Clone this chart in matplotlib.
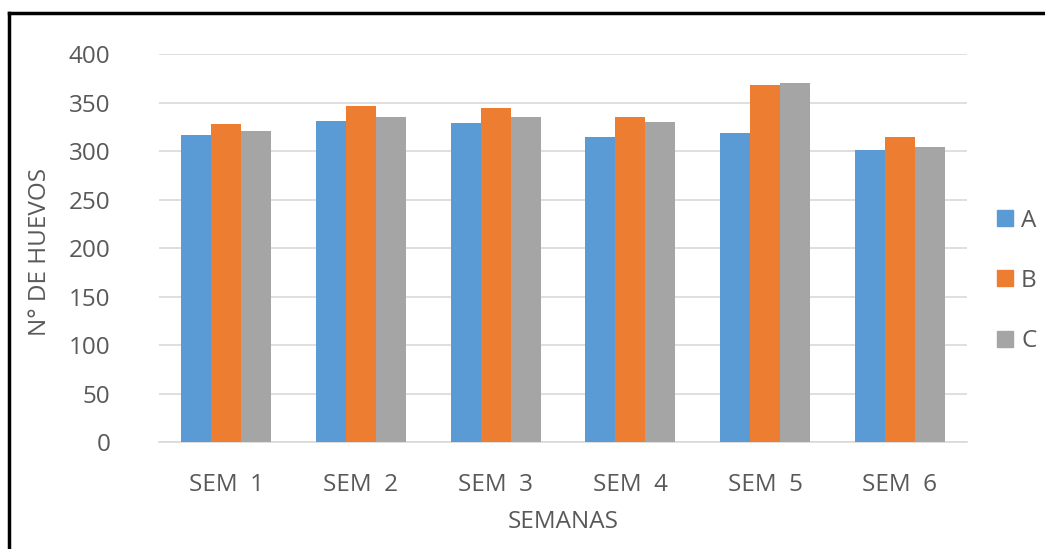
import numpy as np
import matplotlib.pyplot as plt
from matplotlib.lines import Line2D

plt.rcParams['font.family'] = ['Open Sans', 'DejaVu Sans']

semanas = ['SEM  1', 'SEM  2', 'SEM  3', 'SEM  4', 'SEM  5', 'SEM  6']
serie_a = [317, 331, 329, 314, 319, 301]
serie_b = [328, 346, 344, 335, 368, 314]
serie_c = [321, 335, 335, 330, 370, 304]
nombres = ['A', 'B', 'C']
colores = ['#5b9bd5', '#ed7d31', '#a5a5a5']

gris = '#595959'

fig = plt.figure(figsize=(10.45, 5.49), dpi=100)
ax = fig.add_axes([159/1045, 1 - 442.3/549, 808/1045, 388.3/549])

x = np.arange(len(semanas))
w = 0.223
for i, (vals, col) in enumerate(zip([serie_a, serie_b, serie_c], colores)):
    ax.bar(x + (i - 1) * w, vals, w, color=col, zorder=3)

ax.set_xlim(-0.5, len(semanas) - 0.5)
ax.set_ylim(0, 400)
ax.set_yticks(range(0, 401, 50))
ax.set_xticks(x)
ax.set_xticklabels(semanas)
ax.grid(axis='y', color='#d9d9d9', lw=1.2, zorder=0)
for s in ['top', 'right', 'left']:
    ax.spines[s].set_visible(False)
ax.spines['bottom'].set_color('#d9d9d9')
ax.spines['bottom'].set_linewidth(1.2)
ax.tick_params(axis='both', length=0, labelsize=17.5, labelcolor=gris)
ax.tick_params(axis='y', pad=35)
ax.tick_params(axis='x', pad=22)

fig.text(40/1045, 1 - 252/549, 'N° DE HUEVOS', rotation=90, ha='center', va='center',
         fontsize=17.5, color=gris)
fig.text(563/1045, 1 - 522/549, 'SEMANAS', ha='center', va='center',
         fontsize=17.5, color=gris)

handles = [Line2D([], [], marker='s', ls='', markersize=11.5, color=c) for c in colores]
leg = fig.legend(handles, nombres, loc='center left', bbox_to_anchor=(981/1045, 1 - 281/549),
                 frameon=False, fontsize=17.5, labelspacing=1.5, handletextpad=0.15,
                 handlelength=1.0, borderpad=0)
for t in leg.get_texts():
    t.set_color(gris)

# black frame (only left and top edges visible in the crop)
fig.add_artist(Line2D([9/1045, 9/1045], [0, 1 - 13/549], color='black', lw=2.5, transform=fig.transFigure))
fig.add_artist(Line2D([9/1045, 1], [1 - 13/549, 1 - 13/549], color='black', lw=2.5, transform=fig.transFigure))

fig.savefig('out.png', dpi=100)
